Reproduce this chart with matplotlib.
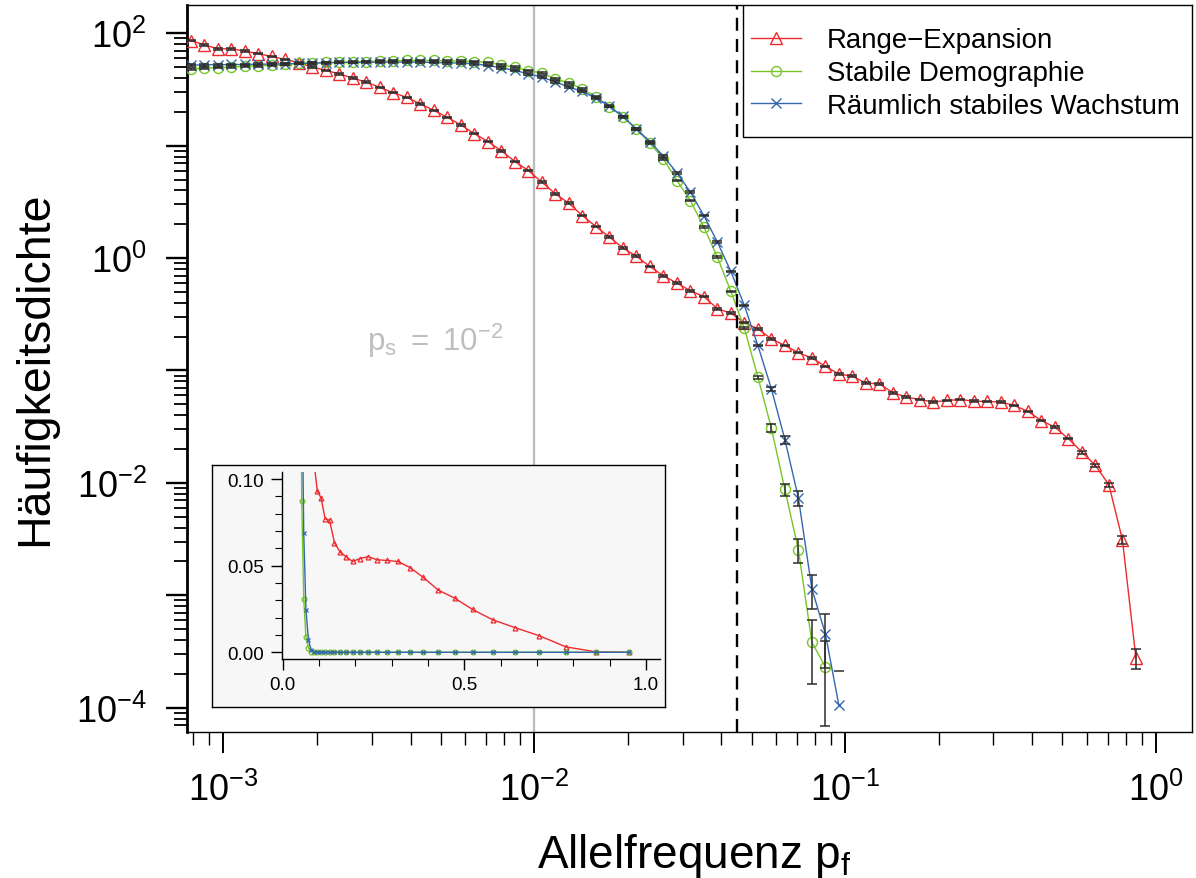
import numpy as np
import matplotlib
matplotlib.use('Agg')
import matplotlib.pyplot as plt
from matplotlib.ticker import FixedLocator, FuncFormatter, NullFormatter, LogLocator, MultipleLocator
from matplotlib.patches import Rectangle

plt.rcParams['font.family'] = ['Liberation Sans', 'DejaVu Sans']
plt.rcParams['mathtext.fontset'] = 'custom'
plt.rcParams['mathtext.rm'] = 'Liberation Sans'
plt.rcParams['mathtext.it'] = 'Liberation Sans'
plt.rcParams['mathtext.bf'] = 'Liberation Sans:bold'

# ---------------- data ----------------
freq = [0.00078585, 0.00086849, 0.00095984, 0.0010608, 0.0011723, 0.0012956, 0.0014319,
        0.0015825, 0.0017489, 0.0019329, 0.0021362, 0.0023608, 0.0026091, 0.0028835,
        0.0031868, 0.0035219, 0.0038923, 0.0043017, 0.0047541, 0.0052541, 0.0058067,
        0.0064173, 0.0070923, 0.0078382, 0.0086625, 0.0095735, 0.010580, 0.011693,
        0.012923, 0.014282, 0.015784, 0.017444, 0.019279, 0.021306, 0.023547, 0.026024,
        0.028760, 0.031785, 0.035128, 0.038823, 0.042906, 0.047418, 0.052405, 0.057916,
        0.064008, 0.070740, 0.078179, 0.086402, 0.095488, 0.10553, 0.11663, 0.12890,
        0.14245, 0.15743, 0.17399, 0.19229, 0.21251, 0.23486, 0.25957, 0.28686, 0.31703,
        0.35038, 0.38722, 0.42795, 0.47295, 0.52269, 0.57767, 0.63842, 0.70557, 0.77977,
        0.86178, 0.95242]

range_expansion = [86.3, 79.0, 72.8, 72.8, 69.5, 65.8, 62.2, 58.5, 54.7, 50.1,
                   46.7, 43.6, 39.9, 36.8, 33.0, 29.6, 26.9, 23.6, 20.6, 17.9,
                   15.3, 12.8, 10.9, 9.01, 7.23, 6.01, 4.74, 3.73, 3.08, 2.39,
                   1.91, 1.54, 1.23, 1.04, 0.842, 0.696, 0.600, 0.512, 0.455, 0.354,
                   0.324, 0.266, 0.235, 0.191, 0.167, 0.144, 0.129, 0.109, 0.0929, 0.0891,
                   0.0772, 0.0762, 0.0633, 0.058, 0.0552, 0.0524, 0.0541, 0.0552, 0.0534, 0.053,
                   0.0524, 0.0489, 0.0432, 0.0359, 0.0313, 0.0247, 0.0188, 0.0143, 0.00962, 0.00312,
                   0.000276, 0.0]

stabile_demographie = [48.3, 49.0, 49.6, 50.0, 51.1, 51.4, 52.1, 53.2, 53.9, 54.3,
                       55.0, 55.4, 55.8, 56.1, 56.6, 56.9, 57.3, 57.3, 57.3, 56.9,
                       56.6, 56.1, 55.0, 52.5, 50.0, 46.5, 44.3, 39.4, 36.1, 32.1,
                       27.1, 22.3, 18.0, 14.1, 10.5, 7.65, 4.90, 3.25, 1.89, 1.02,
                       0.505, 0.238, 0.0874, 0.0307, 0.00874, 0.00254, 0.000383, 0.000230, 0.0, 0.0,
                       0.0, 0.0, 0.0, 0.0, 0.0, 0.0, 0.0, 0.0, 0.0, 0.0,
                       0.0, 0.0, 0.0, 0.0, 0.0, 0.0, 0.0, 0.0, 0.0, 0.0,
                       0.0, 0.0]

raeumlich_stabil = [52.1, 52.5, 52.5, 52.8, 52.8, 53.2, 53.2, 53.5, 53.9, 54.3,
                    54.6, 55.0, 55.0, 55.4, 55.4, 55.4, 55.4, 55.4, 55.0, 54.6,
                    54.3, 53.5, 51.7, 49.3, 46.7, 43.6, 40.7, 37.0, 33.2, 30.4,
                    26.5, 22.5, 18.2, 14.1, 10.9, 8.08, 5.74, 3.87, 2.39, 1.39,
                    0.760, 0.379, 0.167, 0.0688, 0.0243, 0.00737, 0.00114, 0.000454, 0.000105, 0.0,
                    0.0, 0.0, 0.0, 0.0, 0.0, 0.0, 0.0, 0.0, 0.0, 0.0,
                    0.0, 0.0, 0.0, 0.0, 0.0, 0.0, 0.0, 0.0, 0.0, 0.0,
                    0.0, 0.0]

# relative standard errors
err_range = [0.015] * 66 + [0.03, 0.035, 0.045, 0.08, 0.2, 0.0]
err_stabil = [0.015] * 42 + [0.03, 0.08, 0.125, 0.235, 0.58, 0.70] + [0.0] * 24
err_raeum = [0.015] * 43 + [0.04, 0.08, 0.147, 0.34, 0.5, 1.0] + [0.0] * 23

labels = ['Range\u2212Expansion', 'Stabile Demographie', 'R\u00e4umlich stabiles Wachstum']
colors = ['#EE2A2E', '#77C626', '#3567AE']
markers = ['^', 'o', 'x']
msizes = [8.8, 7.2, 7.8]

p_s = 0.01
p_cut = 0.045

# ---------------- figure ----------------
W, H = 1196, 879
fig = plt.figure(figsize=(W / 100, H / 100), dpi=100)


def fx(px):
    return px / W


def fy(py):
    return (H - py) / H


ax = fig.add_axes([fx(187), fy(733), fx(1192) - fx(187), fy(6) - fy(733)])
ax.set_xscale('log')
ax.set_yscale('log', nonpositive='mask')
ax.set_xlim(7.64e-4, 1.3055)
ax.set_ylim(6.077e-5, 178.6)

ax.axvline(p_s, color='#BEBEBE', lw=1.7, zorder=1)
ax.axvline(p_cut, color='black', lw=1.7, ls=(0, (5.5, 3.5)), zorder=6)

x = np.array(freq)
series = [np.array(range_expansion), np.array(stabile_demographie), np.array(raeumlich_stabil)]
errs = [np.array(err_range), np.array(err_stabil), np.array(err_raeum)]

handles = []
for y, e, c, m, ms, lab in zip(series, errs, colors, markers, msizes, labels):
    pos = y > 0
    h, = ax.plot(x[pos], y[pos], color=c, lw=1.0, marker=m, ms=ms, mfc='none',
                 mec=c, mew=1.0, zorder=3, label=lab)
    handles.append(h)
    ax.errorbar(x[pos], y[pos], yerr=e[pos] * y[pos], fmt='none', ecolor='#2E2E2E',
                elinewidth=1.1, capsize=3.6, capthick=1.1, zorder=4)

# ticks
ax.xaxis.set_major_locator(FixedLocator([1e-3, 1e-2, 1e-1, 1.0]))
ax.xaxis.set_major_formatter(FuncFormatter(lambda v, p: r'$\mathregular{10^{%d}}$' % round(np.log10(v))))
ax.xaxis.set_minor_locator(LogLocator(base=10, subs=np.arange(2, 10), numticks=50))
ax.xaxis.set_minor_formatter(NullFormatter())


def yfmt(v, p):
    k = round(np.log10(v))
    return r'$\mathregular{10^{%d}}$' % k if k % 2 == 0 else ''


ax.yaxis.set_major_locator(FixedLocator([1e-4, 1e-3, 1e-2, 1e-1, 1.0, 10.0, 100.0]))
ax.yaxis.set_major_formatter(FuncFormatter(yfmt))
ax.yaxis.set_minor_locator(LogLocator(base=10, subs=np.arange(2, 10), numticks=50))
ax.yaxis.set_minor_formatter(NullFormatter())

ax.tick_params(axis='both', which='major', direction='out', length=15, width=1.4,
               labelsize=26)
ax.tick_params(axis='both', which='minor', direction='out', length=9.5, width=1.0)
ax.tick_params(axis='x', which='major', pad=14)
ax.tick_params(axis='y', which='major', pad=14, width=1.7)
ax.tick_params(axis='y', which='minor', width=1.3)
for s in ['top', 'right', 'bottom']:
    ax.spines[s].set_linewidth(1.0)
ax.spines['left'].set_linewidth(2.0)

ax.text(0.00794, 0.1507, r'$p_s\,\,=\,\,10^{-2}$', ha='right', va='baseline',
        color='#BEBEBE', fontsize=22.5)

# legend with a square frame flush to the top-right corner
ax.add_patch(Rectangle((0.5529, 0.8180), 0.4471, 0.182, transform=ax.transAxes,
                       facecolor='white', edgecolor='black', lw=1.0, zorder=7))
leg = ax.legend(handles=handles, loc='center', bbox_to_anchor=(0.7741, 0.9062),
                frameon=False, fontsize=19.9, handlelength=1.81, handletextpad=0.94,
                labelspacing=0.25, borderpad=0.0)
leg.set_zorder(8)

# axis labels
fig.text(fx(694), fy(868), r'Allelfrequenz $\mathregular{p_f}$', fontsize=33,
         ha='center', va='baseline')
fig.text(fx(35), fy(369), 'H\u00e4ufigkeitsdichte', fontsize=33.5, rotation=90,
         ha='center', va='center')

# ---------------- inset ----------------
box = fig.add_axes([fx(211.5), fy(708), fx(665) - fx(211.5), fy(466) - fy(708)])
box.set_facecolor('#F7F7F7')
box.set_xticks([])
box.set_yticks([])
for s in box.spines.values():
    s.set_linewidth(1.0)
    s.set_color('black')

ins = fig.add_axes([fx(281.7), fy(660), fx(660) - fx(281.7), fy(473.3) - fy(660)])
ins.patch.set_alpha(0)
ins.set_xlim(-0.00275, 1.0385)
ins.set_ylim(-0.00387, 0.10387)
for y, c, m in zip(series, colors, markers):
    ins.plot(x, y, color=c, lw=1.0, marker=m, ms=3.5, mfc='none', mec=c, mew=0.9)
ins.spines['top'].set_visible(False)
ins.spines['right'].set_visible(False)
ins.spines['left'].set_linewidth(1.0)
ins.spines['bottom'].set_linewidth(1.0)
ins.xaxis.set_major_locator(FixedLocator([0.0, 0.5, 1.0]))
ins.xaxis.set_major_formatter(FuncFormatter(lambda v, p: '%.1f' % v))
ins.xaxis.set_minor_locator(MultipleLocator(0.1))
ins.yaxis.set_major_locator(FixedLocator([0.0, 0.05, 0.10]))
ins.yaxis.set_major_formatter(FuncFormatter(lambda v, p: '%.2f' % v))
ins.yaxis.set_minor_locator(MultipleLocator(0.01))
ins.tick_params(which='major', direction='out', length=8, width=1.0, labelsize=13.5)
ins.tick_params(which='minor', direction='out', length=5, width=0.8)
ins.tick_params(axis='x', which='major', pad=4.5)
ins.tick_params(axis='y', which='major', pad=5)

fig.savefig('out.png', dpi=100)
